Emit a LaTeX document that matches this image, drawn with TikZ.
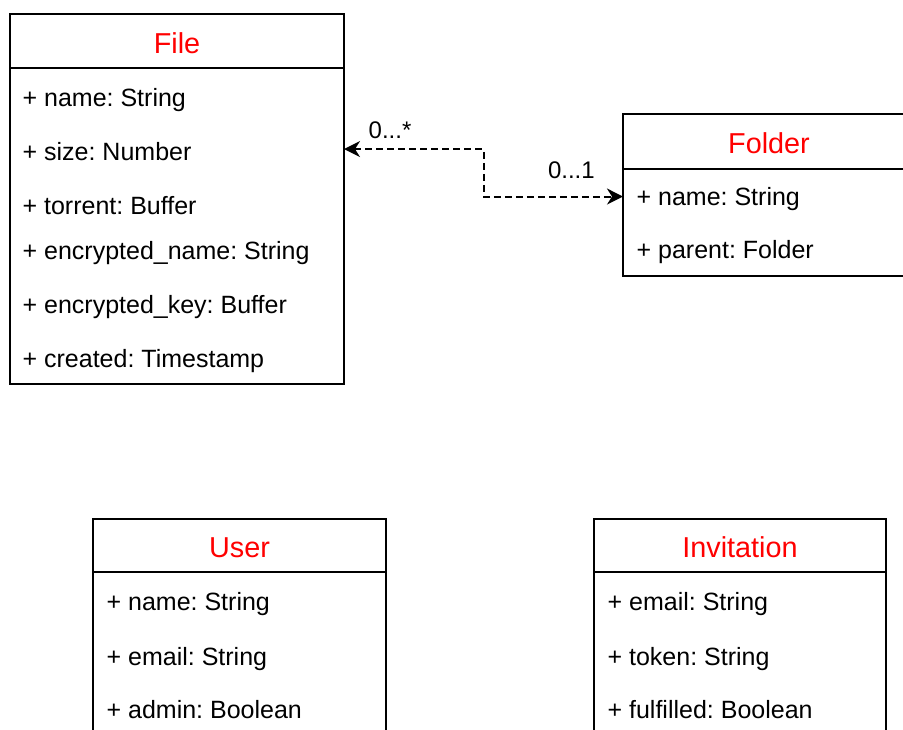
\documentclass[tikz,border=0pt]{standalone}
\usepackage{fontspec}
\setmainfont{Liberation Sans}
\frenchspacing
\usetikzlibrary{calc}
\usetikzlibrary{positioning}
\usetikzlibrary{arrows.meta}
\tikzset{every picture/.style={semithick, >={Stealth[length=8pt,width=8pt,inset=2.5pt]}}}
\definecolor{headRed}{HTML}{FF0000}
\tikzstyle{classhead}=[draw,line width=1pt,anchor=north west,outer sep=0pt,inner sep=0pt,text height=12pt,text depth=0pt,text=headRed,font=\fontsize{14.4}{17}\selectfont]
\tikzstyle{classbody}=[draw,line width=1pt,outer sep=0pt,inner sep=0pt]
\tikzstyle{attr}=[anchor=base west,inner sep=0pt,font=\fontsize{12.5}{15}\selectfont]
\tikzstyle{mult}=[font=\fontsize{12}{14}\selectfont]
\tikzstyle{assoc}=[<->,line width=1pt,dash pattern=on 3.5pt off 2pt]

\begin{document}
\begin{tikzpicture}[x=0.5pt,y=-0.5pt]
        \useasboundingbox (0,0) rectangle (903,729);
        \fill [white] (0,0) rectangle (903,729);
        \clip (0,0) rectangle (903,729);

        % File
        \node [classhead,minimum width=167pt,minimum height=27pt] (filehead) at (10,14) {File};
        \node [classbody,minimum width=167pt,minimum height=158pt,below=0pt of filehead] (filebody) {};
        \node [attr] (fname) at (22,106) {+ name: String};
        \node [attr] (fsize) at (22,160) {+ size: Number};
        \node [attr] (ftorrent) at (22,214) {+ torrent: Buffer};
        \node [attr] (fencname) at (22,259) {+ encrypted\_name: String};
        \node [attr] (fenckey) at (22,313) {+ encrypted\_key: Buffer};
        \node [attr] (fcreated) at (22,367) {+ created: Timestamp};

        % Folder
        \node [classhead,minimum width=146pt,minimum height=27.5pt] (folderhead) at (623,114) {Folder};
        \node [classbody,minimum width=146pt,minimum height=53.5pt,below=0pt of folderhead] (folderbody) {};
        \node [attr] (fdname) at (636,205) {+ name: String};
        \node [attr] (fdparent) at (636,258) {+ parent: Folder};

        % User
        \node [classhead,minimum width=146.5pt,minimum height=26.5pt] (userhead) at (93,519) {User};
        \node [classbody,minimum width=146.5pt,minimum height=150pt,below=0pt of userhead] (userbody) {};
        \node [attr] (uname) at (106,610) {+ name: String};
        \node [attr] (uemail) at (106,665) {+ email: String};
        \node [attr] (uadmin) at (106,718) {+ admin: Boolean};

        % Invitation
        \node [classhead,minimum width=146pt,minimum height=26.5pt] (invhead) at (594,519) {Invitation};
        \node [classbody,minimum width=146pt,minimum height=150pt,below=0pt of invhead] (invbody) {};
        \node [attr] (iemail) at (607,610) {+ email: String};
        \node [attr] (itoken) at (607,665) {+ token: String};
        \node [attr] (ifulfilled) at (607,718) {+ fulfilled: Boolean};

        % File -- Folder association
        \coordinate (bend) at ($(filebody.east)!.5!(folderbody.west)$);
        \coordinate (fromfile) at ([yshift=1pt]fsize -| filebody.east);
        \coordinate (tofolder) at ([yshift=1pt]fdname -| folderbody.west);
        \draw [assoc] (fromfile) -- node [mult,above=1.5pt,pos=0.33] {0...*} (fromfile -| bend)
                -- (bend |- tofolder) -- node [mult,above=5pt,pos=0.63] {0...1} (tofolder);
\end{tikzpicture}
\end{document}
